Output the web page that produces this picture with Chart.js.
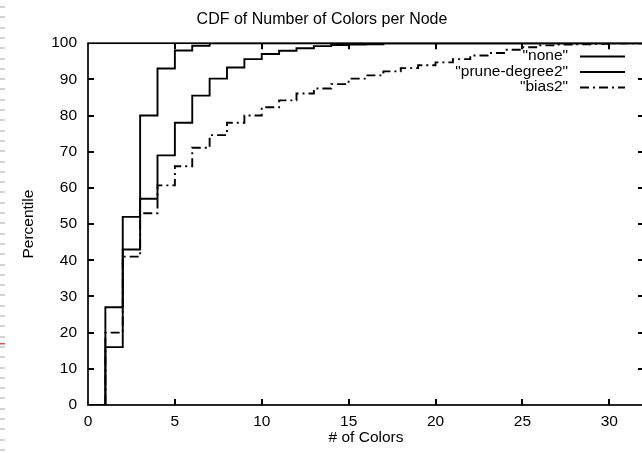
<!DOCTYPE html>
<html>
<head>
<meta charset="utf-8">
<script src="https://cdn.jsdelivr.net/npm/chart.js@4/dist/chart.umd.min.js"></script>
<style>
html,body{margin:0;padding:0;background:#fff;overflow:hidden;}
#wrap{position:relative;width:650px;height:453px;}
</style>
</head>
<body>
<div id="wrap"><canvas id="c" width="650" height="453"></canvas></div>
<script>
// ---- data ----
const numColors = [0,1,2,3,4,5,6,7,8,9,10,11,12,13,14,15,16,17,18,19,20,21,22,23,24,25,26,27,28,29,30,31,32];
const seriesNames = ['"none"', '"prune-degree2"', '"bias2"'];
const noneCdf  = [0,27,52,80,93,98,99.3,100,100,100,100,100,100,100,100,100,100,100,100,100,100,100,100,100,100,100,100,100,100,100,100,100,100];
const pruneCdf = [0,16,43,57,69,78,85.5,90.2,93.3,95.6,97.0,97.9,98.6,99.2,99.5,99.6,99.7,100,100,100,100,100,100,100,100,100,100,100,100,100,100,100,100];
const biasCdf  = [0,20,41,53,60.7,66,71.1,74.6,78,80,82.3,84.2,86.1,87.5,88.7,90.2,91.1,92.2,93.1,93.9,94.7,95.6,96.6,97.3,98.2,98.9,99.4,99.6,99.7,99.8,100,100,100];
const xTickValues = [0,5,10,15,20,25,30];
const yTickValues = [0,10,20,30,40,50,60,70,80,90,100];
const chartTitle = 'CDF of Number of Colors per Node';
const xTitle = '# of Colors';
const yTitle = 'Percentile';

const FONT = "'Liberation Sans', Arial, Helvetica, sans-serif";
const toPts = arr => arr.map((v, i) => ({x: numColors[i], y: v}));

const styles = [
  {borderDash: []},
  {borderDash: []},
  {borderDash: [9,4,2,4]}
];
const cdfs = [noneCdf, pruneCdf, biasCdf];

const datasets = cdfs.map((arr, i) => ({
  label: seriesNames[i],
  data: toPts(arr),
  borderColor: '#000',
  backgroundColor: '#000',
  borderWidth: 1.9,
  borderDash: styles[i].borderDash,
  pointRadius: 0,
  fill: false,
  stepped: 'before',
  tension: 0
}));

// frame with inward ticks on all four sides (gnuplot style)
const framePlugin = {
  id: 'frame',
  afterDatasetsDraw(chart) {
    const {ctx, chartArea: {left, right, top, bottom}, scales: {x, y}} = chart;
    ctx.save();
    ctx.strokeStyle = '#000';
    ctx.lineWidth = 1.7;
    ctx.setLineDash([]);
    ctx.strokeRect(left, top, right - left, bottom - top);
    ctx.lineWidth = 2;
    const tl = 6;
    ctx.beginPath();
    x.ticks.forEach(t => {
      const px = Math.round(x.getPixelForValue(t.value));
      if (t.value === x.min) return;
      ctx.moveTo(px, bottom); ctx.lineTo(px, bottom - tl);
      ctx.moveTo(px, top); ctx.lineTo(px, top + tl);
    });
    y.ticks.forEach(t => {
      const py = Math.round(y.getPixelForValue(t.value));
      if (t.value === y.min || t.value === y.max) return;
      ctx.moveTo(left, py); ctx.lineTo(left + tl, py);
      ctx.moveTo(right, py); ctx.lineTo(right - tl, py);
    });
    ctx.stroke();
    ctx.restore();
  }
};

// gnuplot-like key: right-aligned text with sample line to its right
const keyPlugin = {
  id: 'key',
  afterDraw(chart) {
    const {ctx} = chart;
    ctx.save();
    ctx.font = '15.5px ' + FONT;
    ctx.fillStyle = '#000';
    ctx.textAlign = 'right';
    ctx.textBaseline = 'middle';
    chart.data.datasets.forEach((ds, i) => {
      const yy = 56 + i * 15.5;
      ctx.fillText(ds.label, 568, yy);
      ctx.strokeStyle = ds.borderColor;
      ctx.lineWidth = 1.8;
      ctx.setLineDash(ds.borderDash || []);
      ctx.beginPath();
      ctx.moveTo(580, yy + 0.5);
      ctx.lineTo(625, yy + 0.5);
      ctx.stroke();
    });
    ctx.restore();
  }
};

// slide-edge decoration at the far left of the picture
const edgePlugin = {
  id: 'edge',
  afterDraw(chart) {
    const {ctx} = chart;
    ctx.save();
    ctx.fillStyle = '#d4d4d4';
    for (let yy = 6; yy < 453; yy += 10.3) {
      ctx.fillRect(0, Math.round(yy), 5, 2);
    }
    ctx.fillStyle = '#e05050';
    ctx.fillRect(0, 343, 5, 1.5);
    ctx.restore();
  }
};

const tickFont = {family: FONT, size: 15.5, weight: 'normal', lineHeight: 1.2};

new Chart(document.getElementById('c'), {
  type: 'line',
  data: {datasets},
  options: {
    responsive: false,
    animation: false,
    devicePixelRatio: 1,
    layout: {padding: {left: 0, right: 6, top: 0, bottom: 0}},
    plugins: {
      legend: {display: false},
      tooltip: {enabled: false},
      title: {
        display: true,
        text: chartTitle,
        color: '#000',
        font: {family: FONT, size: 16, weight: 'normal', lineHeight: 1.2},
        padding: {top: 10, bottom: 14}
      }
    },
    scales: {
      x: {
        type: 'linear',
        min: 0,
        max: 32,
        afterFit: s => { s.height = 48; },
        afterBuildTicks: s => { s.ticks = xTickValues.map(v => ({value: v})); },
        grid: {display: false, drawTicks: false},
        border: {display: false},
        ticks: {color: '#000', font: tickFont, padding: 7, maxRotation: 0, autoSkip: false},
        title: {display: true, text: xTitle, color: '#000', font: tickFont, padding: {top: 0, bottom: 6}}
      },
      y: {
        type: 'linear',
        min: 0,
        max: 100,
        afterFit: s => { s.width = 88; },
        afterBuildTicks: s => { s.ticks = yTickValues.map(v => ({value: v})); },
        grid: {display: false, drawTicks: false},
        border: {display: false},
        ticks: {color: '#000', font: tickFont, padding: 11, autoSkip: false},
        title: {display: true, text: yTitle, color: '#000', font: tickFont, padding: {top: 19, bottom: 0}}
      }
    }
  },
  plugins: [framePlugin, keyPlugin, edgePlugin]
});
</script>
</body>
</html>
